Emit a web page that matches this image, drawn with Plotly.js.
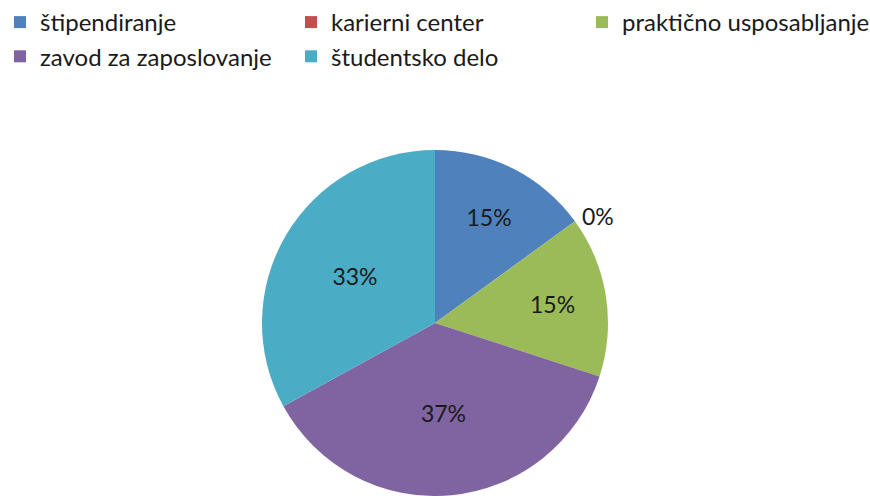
<!DOCTYPE html>
<html>
<head>
<meta charset="utf-8">
<script src="https://cdn.plot.ly/plotly-3.0.1.min.js"></script>
<style>html,body{margin:0;padding:0;background:#fff;}#chart{width:870px;height:496px;}</style>
</head>
<body>
<div id="chart"></div>
<script>
var categories = ["štipendiranje", "karierni center", "praktično usposabljanje", "zavod za zaposlovanje", "študentsko delo"];
var shares = [15, 0, 15, 37, 33];
var colors = ["#4F81BD", "#C0504D", "#9BBB59", "#8064A2", "#4BACC6"];

var fontFam = "Lato, 'Liberation Sans', sans-serif";

var trace = {
  type: "pie",
  labels: categories,
  values: shares,
  sort: false,
  direction: "clockwise",
  rotation: 0,
  marker: {colors: colors, line: {color: "#ffffff", width: 0}},
  texttemplate: "%{value}%",
  textposition: shares.map(function(v){ return v === 0 ? "outside" : "inside"; }),
  insidetextorientation: "horizontal",
  textfont: {family: fontFam, size: 23, color: "#1a1a1a"},
  hoverinfo: "label+percent",
  domain: {x: [0, 1], y: [0, 1]},
  showlegend: true
};

var layout = {
  width: 870, height: 496,
  margin: {l: 0, r: 0, t: 150, b: 0},
  paper_bgcolor: "#ffffff",
  plot_bgcolor: "#ffffff",
  font: {family: fontFam, size: 24, color: "#1a1a1a"},
  legend: {
    orientation: "h",
    x: 0, xanchor: "left",
    y: 1.0, yanchor: "top",
    yref: "container",
    entrywidth: 246,
    entrywidthmode: "pixels",
    traceorder: "normal",
    font: {size: 24},
    itemwidth: 30
  }
};

Plotly.newPlot("chart", [trace], layout, {displayModeBar: false, staticPlot: true});
</script>
</body>
</html>
